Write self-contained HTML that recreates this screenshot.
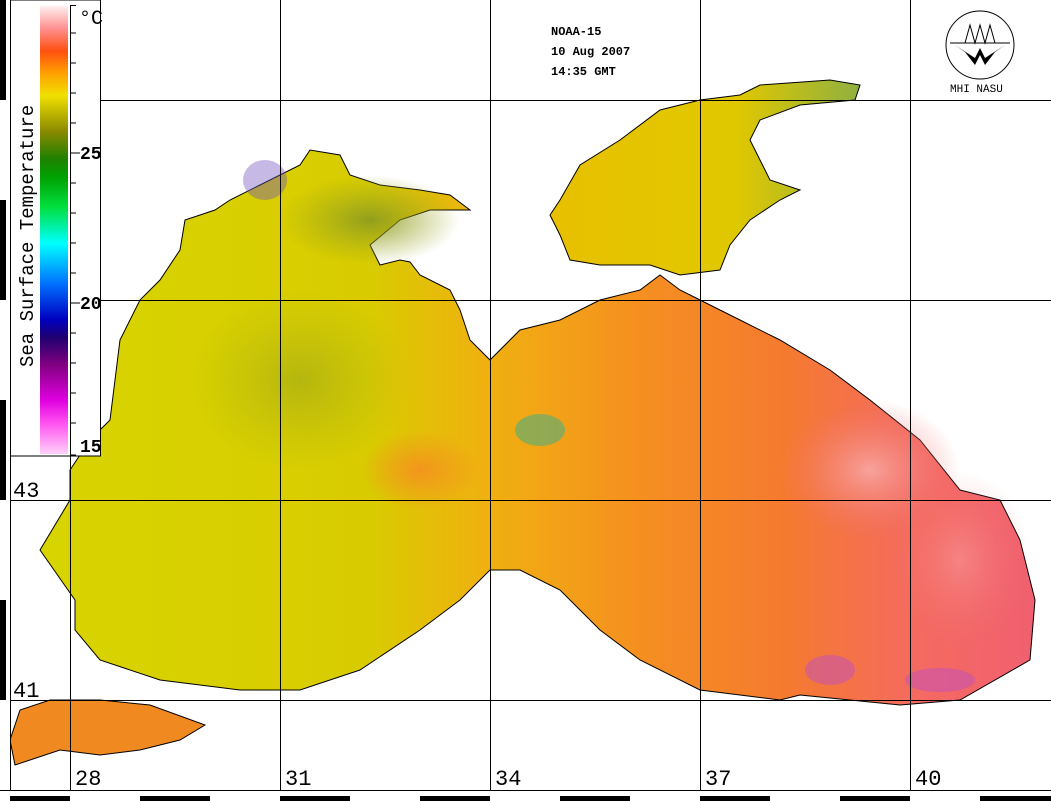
<!DOCTYPE html>
<html><head><meta charset="utf-8"><style>
html,body{margin:0;padding:0;background:#fff}
svg{display:block}
text{font-family:"Liberation Mono",monospace}
</style></head><body>
<svg width="1051" height="801" viewBox="0 0 1051 801" xmlns="http://www.w3.org/2000/svg">
<defs>
<linearGradient id="cb" x1="0" y1="1" x2="0" y2="0">
<stop offset="0" stop-color="#ffd0f8"/>
<stop offset="0.07" stop-color="#ff50f0"/>
<stop offset="0.12" stop-color="#e000e0"/>
<stop offset="0.2" stop-color="#800080"/>
<stop offset="0.26" stop-color="#200070"/>
<stop offset="0.3" stop-color="#0000c0"/>
<stop offset="0.38" stop-color="#0070ff"/>
<stop offset="0.47" stop-color="#00ffff"/>
<stop offset="0.55" stop-color="#00e040"/>
<stop offset="0.62" stop-color="#00a000"/>
<stop offset="0.66" stop-color="#208000"/>
<stop offset="0.72" stop-color="#8a8a00"/>
<stop offset="0.8" stop-color="#f0e000"/>
<stop offset="0.85" stop-color="#ffa000"/>
<stop offset="0.9" stop-color="#ff5010"/>
<stop offset="0.95" stop-color="#ff9090"/>
<stop offset="1" stop-color="#fff0f0"/>
</linearGradient>
<linearGradient id="sea" x1="0" y1="0" x2="1" y2="0">
<stop offset="0" stop-color="#d8d400"/>
<stop offset="0.33" stop-color="#d8cc00"/>
<stop offset="0.45" stop-color="#f0b010"/>
<stop offset="0.6" stop-color="#f59020"/>
<stop offset="0.75" stop-color="#f57a30"/>
<stop offset="0.88" stop-color="#f56a60"/>
<stop offset="1" stop-color="#f06070"/>
</linearGradient>
<radialGradient id="nw" cx="0.5" cy="0.5" r="0.5">
<stop offset="0" stop-color="#8a9a20" stop-opacity="0.9"/>
<stop offset="1" stop-color="#a0a820" stop-opacity="0"/>
</radialGradient>
<radialGradient id="pk" cx="0.5" cy="0.5" r="0.5">
<stop offset="0" stop-color="#f8b0b0" stop-opacity="0.8"/>
<stop offset="1" stop-color="#f07070" stop-opacity="0"/>
</radialGradient>
<radialGradient id="or" cx="0.5" cy="0.5" r="0.5">
<stop offset="0" stop-color="#f59020" stop-opacity="0.9"/>
<stop offset="1" stop-color="#f59020" stop-opacity="0"/>
</radialGradient>
<linearGradient id="az" x1="0" y1="0" x2="1" y2="0">
<stop offset="0" stop-color="#e8c000"/>
<stop offset="0.6" stop-color="#e0c800"/>
<stop offset="1" stop-color="#90b040"/>
</linearGradient>
</defs>
<rect width="1051" height="801" fill="#fff"/>
<polygon fill="url(#sea)" stroke="#000" stroke-width="1" points="70,500 40,550 75,600 75,630 100,660 160,680 240,690 300,690 360,670 420,630 460,600 490,570 520,570 560,590 600,630 640,660 700,690 780,700 800,695 850,700 900,705 960,700 1030,660 1035,600 1020,540 1000,500 960,490 920,440 870,400 830,370 780,340 740,320 700,300 680,290 660,275 640,290 600,300 560,320 520,330 490,360 470,340 460,310 450,290 420,275 410,262 400,260 380,265 370,245 400,220 430,210 470,210 450,195 420,190 380,185 350,175 340,155 310,150 300,165 260,185 230,200 215,210 185,220 180,250 160,280 140,300 130,320 120,340 115,380 110,420 90,440 70,470"/>
<ellipse cx="370" cy="220" rx="90" ry="45" fill="url(#nw)"/>
<ellipse cx="300" cy="380" rx="110" ry="90" fill="url(#nw)" opacity="0.5"/>
<ellipse cx="420" cy="470" rx="60" ry="40" fill="url(#or)"/>
<ellipse cx="870" cy="470" rx="90" ry="70" fill="url(#pk)"/>
<ellipse cx="960" cy="560" rx="70" ry="90" fill="url(#pk)" opacity="0.5"/>
<ellipse cx="265" cy="180" rx="22" ry="20" fill="#7050c0" opacity="0.4"/>
<ellipse cx="540" cy="430" rx="25" ry="16" fill="#30b090" opacity="0.5"/>
<ellipse cx="830" cy="670" rx="25" ry="15" fill="#c050c0" opacity="0.5"/>
<ellipse cx="940" cy="680" rx="35" ry="12" fill="#c050c0" opacity="0.5"/>
<polygon fill="url(#az)" stroke="#000" stroke-width="1" points="560,200 580,165 620,140 660,110 700,100 740,95 760,85 830,80 860,85 855,100 800,105 760,120 750,140 770,180 800,190 780,200 750,220 730,245 720,270 680,275 650,265 600,265 570,260 560,235 550,215"/>
<polygon fill="#f08a20" stroke="#000" stroke-width="1" points="10,740 20,710 50,700 100,700 150,705 205,725 180,740 140,750 100,755 60,750 30,760 15,765"/>
<g stroke="#000" stroke-width="1">
<line x1="70.5" y1="0" x2="70.5" y2="790"/><line x1="280.5" y1="0" x2="280.5" y2="790"/>
<line x1="490.5" y1="0" x2="490.5" y2="790"/><line x1="700.5" y1="0" x2="700.5" y2="790"/>
<line x1="910.5" y1="0" x2="910.5" y2="790"/>
<line x1="10" y1="100.5" x2="1051" y2="100.5"/><line x1="10" y1="300.5" x2="1051" y2="300.5"/>
<line x1="10" y1="500.5" x2="1051" y2="500.5"/><line x1="10" y1="700.5" x2="1051" y2="700.5"/>
</g>
<rect x="10.5" y="0" width="90" height="456" fill="#fff" stroke="#000"/>
<rect x="40" y="6" width="28" height="448" fill="url(#cb)"/>
<line x1="70.5" y1="5" x2="70.5" y2="455" stroke="#000"/>
<g stroke="#000"><line x1="70" y1="5.5" x2="76" y2="5.5"/><line x1="70" y1="455" x2="76" y2="455"/>
<line x1="70" y1="33" x2="76" y2="33"/><line x1="70" y1="63" x2="76" y2="63"/><line x1="70" y1="93" x2="76" y2="93"/><line x1="70" y1="123" x2="76" y2="123"/><line x1="70" y1="153" x2="80" y2="153"/><line x1="70" y1="183" x2="76" y2="183"/><line x1="70" y1="213" x2="76" y2="213"/><line x1="70" y1="243" x2="76" y2="243"/><line x1="70" y1="273" x2="76" y2="273"/><line x1="70" y1="303" x2="80" y2="303"/><line x1="70" y1="333" x2="76" y2="333"/><line x1="70" y1="363" x2="76" y2="363"/><line x1="70" y1="393" x2="76" y2="393"/><line x1="70" y1="423" x2="76" y2="423"/></g>
<text x="80" y="159" font-size="18" font-weight="bold">25</text>
<text x="80" y="309" font-size="18" font-weight="bold">20</text>
<text x="80" y="452" font-size="18" font-weight="bold">15</text>
<text x="79" y="24" font-size="20" font-family="Liberation Serif,serif">°C</text>
<text transform="translate(33,367) rotate(-90)" font-size="19">Sea Surface Temperature</text>
<rect x="0" y="0" width="10" height="801" fill="#fff"/>
<line x1="10.5" y1="0" x2="10.5" y2="790" stroke="#000"/>
<rect x="0" y="0" width="6" height="100" fill="#000"/><rect x="0" y="200" width="6" height="100" fill="#000"/><rect x="0" y="400" width="6" height="100" fill="#000"/><rect x="0" y="600" width="6" height="100" fill="#000"/>
<rect x="0" y="790" width="1051" height="11" fill="#fff"/>
<line x1="0" y1="790.5" x2="1051" y2="790.5" stroke="#000"/>
<g fill="#000"><rect x="10" y="796" width="60" height="5"/><rect x="140" y="796" width="70" height="5"/><rect x="280" y="796" width="70" height="5"/><rect x="420" y="796" width="70" height="5"/><rect x="560" y="796" width="70" height="5"/><rect x="700" y="796" width="70" height="5"/><rect x="840" y="796" width="70" height="5"/><rect x="980" y="796" width="71" height="5"/></g>
<g font-size="22"><text x="13" y="497">43</text><text x="13" y="697">41</text><text x="75" y="785">28</text><text x="285" y="785">31</text><text x="495" y="785">34</text><text x="705" y="785">37</text><text x="915" y="785">40</text></g>
<g font-size="12" font-weight="bold"><text x="551" y="35">NOAA-15</text><text x="551" y="55">10 Aug 2007</text><text x="551" y="75">14:35 GMT</text></g>
<circle cx="980" cy="45" r="34" fill="#fff" stroke="#000"/>
<polyline points="950,43 1010,43" stroke="#000" fill="none"/>
<polygon points="955,45 975,58 980,48 985,58 1005,45 995,52 985,65 980,55 975,65 965,52" fill="#000"/>
<polyline points="965,43 970,25 975,43 980,25 985,43 990,25 995,43" stroke="#000" fill="none"/>
<text x="950" y="92" font-size="11">MHI NASU</text>
</svg>
</body></html>
